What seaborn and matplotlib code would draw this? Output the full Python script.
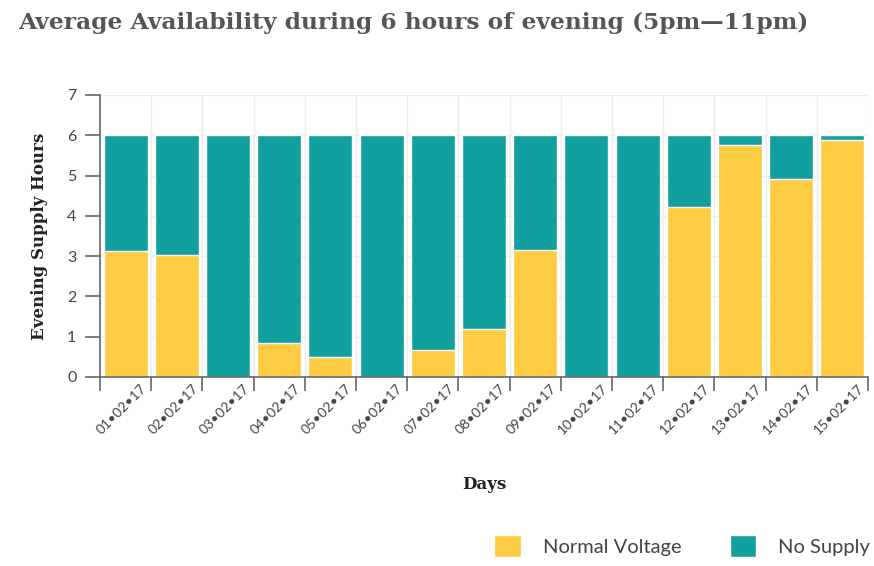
import matplotlib
matplotlib.use("Agg")
import matplotlib.pyplot as plt
import matplotlib.transforms as mtransforms
from matplotlib.patches import Patch
import numpy as np
import pandas as pd
import seaborn as sns

# ── Dados ──────────────────────────────────────────────
dias = ["01•02•17", "02•02•17", "03•02•17", "04•02•17", "05•02•17",
        "06•02•17", "07•02•17", "08•02•17", "09•02•17", "10•02•17",
        "11•02•17", "12•02•17", "13•02•17", "14•02•17", "15•02•17"]
normal_voltage = [3.12, 3.04, 0.0, 0.85, 0.50, 0.0, 0.67, 1.19, 3.15,
                  0.0, 0.0, 4.21, 5.76, 4.92, 5.89]
no_supply = [6 - v for v in normal_voltage]

COR_AMARELO = "#FDCC43"
COR_VERDE = "#12A09F"

sns.set_theme(style="white")
plt.rcParams["font.family"] = ["Lato", "DejaVu Sans"]

df = pd.DataFrame({"dia": dias, "normal": normal_voltage, "sem": no_supply})
df["total"] = df["normal"] + df["sem"]

fig = plt.figure(figsize=(8.74, 5.66), dpi=100)
ax = fig.add_axes([100 / 874, 1 - 377 / 566, 768 / 874, 282 / 566])

sns.barplot(data=df, x="dia", y="total", color=COR_VERDE, width=0.86,
            saturation=1, ax=ax)
sns.barplot(data=df, x="dia", y="normal", color=COR_AMARELO, width=0.86,
            saturation=1, ax=ax)

ax.set_xlim(-0.5, len(dias) - 0.5)
ax.set_ylim(0, 7)
ax.set_yticks(range(0, 8))

# grade nas fronteiras das barras
ax.set_xticks(np.arange(-0.5, len(dias), 1), minor=True)
ax.set_xticks(range(len(dias)))
ax.tick_params(axis="x", which="major", length=0, pad=4)
ax.tick_params(axis="x", which="minor", length=10, width=1.2, color="#666666",
               direction="out", bottom=True)
ax.tick_params(axis="y", length=11, width=1.2, color="#666666",
               direction="out", left=True, labelsize=11.5, labelcolor="#444444", pad=6)
ax.grid(True, axis="x", which="minor", color="#ececec", linewidth=1)
ax.grid(True, axis="y", which="major", color="#ececec", linewidth=1)
ax.set_axisbelow(True)

deslocamento = mtransforms.ScaledTranslation(15 / 100, 0, fig.dpi_scale_trans)
ax.set_xticklabels(dias, rotation=45, ha="right", rotation_mode="anchor",
                   fontsize=10, color="#444444")
for lbl in ax.get_xticklabels():
    lbl.set_transform(lbl.get_transform() + deslocamento)

for lado in ["top", "right"]:
    ax.spines[lado].set_visible(False)
for lado in ["left", "bottom"]:
    ax.spines[lado].set_color("#666666")
    ax.spines[lado].set_linewidth(1.2)

ax.set_xlabel("Days", family="DejaVu Serif", fontsize=12, fontweight="bold",
              color="#222222", labelpad=28)
ax.set_ylabel("Evening Supply Hours", family="DejaVu Serif", fontsize=12,
              fontweight="bold", color="#222222", labelpad=14)

fig.text(18 / 874, 1 - 23 / 566,
         "Average Availability during 6 hours of evening (5pm—11pm)",
         family="DejaVu Serif", fontsize=16.8, fontweight="bold",
         color="#555555", va="center", ha="left")

handles = [Patch(facecolor=COR_AMARELO, label="Normal Voltage"),
           Patch(facecolor=COR_VERDE, label="No Supply")]
fig.legend(handles=handles, loc="lower right", bbox_to_anchor=(1.016, -0.016),
           ncol=2, frameon=False, fontsize=14.5, labelcolor="#444444",
           handlelength=1.3, handleheight=1.3, handletextpad=1.1,
           columnspacing=2.4)

fig.savefig("out.png", dpi=100)
